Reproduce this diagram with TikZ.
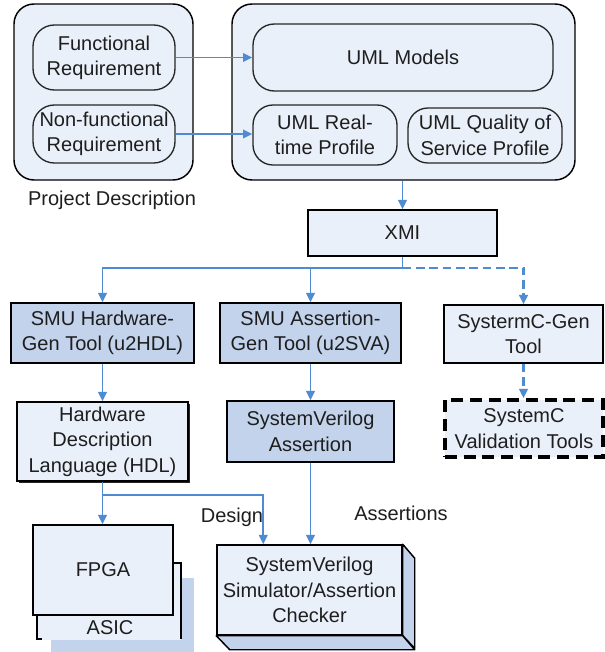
\documentclass[tikz,border=0pt]{standalone}
\usepackage{fontspec}
\setmainfont{Liberation Sans}
\usetikzlibrary{arrows.meta,fit,shadows}

\definecolor{paleblue}{RGB}{234,240,250}
\definecolor{toolblue}{RGB}{194,211,235}
\definecolor{linkblue}{RGB}{79,139,208}
\definecolor{inkgray}{RGB}{30,30,30}

\begin{document}
\begin{tikzpicture}[x=0.75pt,y=-0.75pt,
  every node/.style={font=\fontsize{15}{19}\selectfont, text=inkgray, align=center},
  group/.style={draw=black, line width=1.1pt, fill=paleblue, rounded corners=15pt, inner sep=0pt},
  pill/.style={draw=black!85, line width=1pt, fill=paleblue, rounded corners=16pt, inner sep=0pt},
  plain/.style={draw=black, line width=1.1pt, fill=paleblue, inner sep=0pt,
    general shadow={fill=black!85, shadow xshift=0.9pt, shadow yshift=-0.9pt}},
  tool/.style={plain, fill=toolblue},
  heavy/.style={plain, general shadow={fill=black!85, shadow xshift=1.5pt, shadow yshift=-1.5pt}},
  optional/.style={draw=black, line width=2.8pt, dash pattern=on 9pt off 5pt, fill=paleblue, inner sep=0pt},
  link/.style={draw=linkblue, line width=1.4pt, -{Triangle[length=7pt,width=6.5pt]}},
  dlink/.style={link, line width=1.8pt, dash pattern=on 6.5pt off 3.5pt},
  face/.style={draw=black, line width=1.1pt, fill=toolblue, line join=round}
]
\useasboundingbox (0,0) rectangle (605,652);

% ---- requirements group ----
\node[group, fit={(14,4) (193,180)}] (projbox) {};
\node[pill, fit={(33,25) (175,90)}] (funreq) {};
\node (funreq-t) at (funreq) {Functional\\Requirement};
\node[pill, fit={(33,105) (175,163)}] (nonfun) {};
\node (nonfun-t) at (nonfun) {Non-functional\\Requirement};
\node (projlabel) at (112,200) {Project Description};

% ---- UML group ----
\node[group, fit={(232,4) (575,180)}] (umlbox) {};
\node[pill, fit={(253,24) (553,91)}] (umlmodels) {};
\node (umlmodels-t) at (umlmodels) {UML Models};
\node[pill, rounded corners=15pt, fit={(253,105) (397,165)}] (umlrt) {};
\node (umlrt-t) at (umlrt) {UML Real-\\time Profile};
\node[pill, rounded corners=15pt, fit={(408,108) (562,163)}] (umlqos) {};
\node (umlqos-t) at (umlqos) {UML Quality of\\Service Profile};

% ---- transformation chain ----
\node[plain, fit={(308,210) (497,256)}] (xmi) {};
\node (xmi-t) at (xmi) {XMI};
\node[tool, fit={(11,303) (194,363)}] (smuhw) {};
\node (smuhw-t) at (smuhw) {SMU Hardware-\\Gen Tool (u2HDL)};
\node[tool, fit={(220,303) (401,363)}] (smuas) {};
\node (smuas-t) at (smuas) {SMU Assertion-\\Gen Tool (u2SVA)};
\node[plain, fit={(444,305) (603,363)}] (scgen) {};
\node (scgen-t) at (scgen) {SystermC-Gen\\Tool};
\node[heavy, fit={(17,402) (188,481)}] (hdl) {};
\node (hdl-t) at (hdl) {Hardware\\Description\\Language (HDL)};
\node[tool, fit={(227,401) (394,462)}] (sva) {};
\node (sva-t) at (sva) {SystemVerilog\\Assertion};
\node[optional, fit={(445,400) (603,457)}] (scval) {};
\node (scval-t) at (scval) {SystemC\\Validation Tools};

% ---- FPGA / ASIC stack ----
\fill[toolblue] (51,578) rectangle (194,652);
\fill[paleblue] (37,563) rectangle (181,640);
\draw[black, line width=1.1pt] (37,612) -- (37,639) -- (42,639);
\draw[black, line width=1.1pt] (170,563) -- (181,563) -- (181,639);
\node (asic) at (110,628) {ASIC};
\node[draw=black, line width=1.1pt, fill=paleblue, inner sep=0pt, fit={(33,525) (173,615)}] (fpga) {};
\node (fpga-t) at (fpga) {FPGA};

% ---- simulator / checker block ----
\node[draw=black, line width=1.1pt, fill=paleblue, inner sep=0pt, fit={(217,545) (402,635)}] (svsim) {};
\node (svsim-t) at (svsim) {SystemVerilog\\Simulator/Assertion\\Checker};
\draw[face] (svsim.north east) -- ++(12,14) -- ++(0,90) -- (svsim.south east) -- cycle;
\draw[face] (svsim.south west) -- (svsim.south east) -- ++(12,14) -- ++(-185,0) -- cycle;

% ---- connectors ----
\draw[link] (funreq.east) -- (funreq.east -| umlmodels.west);
\draw[link] (nonfun.east) -- (nonfun.east -| umlrt.west);
\draw[link] (xmi.north |- umlbox.south) -- (xmi.north);

\path (xmi.south) ++(0,11) coordinate (split);
\draw[link] (xmi.south) -- (split) -| (smuhw.north);
\draw[link] (smuas.north |- split) -- (smuas.north);
\draw[dlink] (split) -| (scgen.north);

\draw[link] (smuhw.south) -- (hdl.north -| smuhw.south);
\draw[link] (smuas.south) -- (sva.north -| smuas.south);
\draw[dlink] (scgen.south) -- (scval.north -| scgen.south);

\path (hdl.south) ++(0,13) coordinate (fork);
\coordinate (designin) at ([xshift=35.25pt]svsim.north west);
\draw[link] (hdl.south) -- (fpga.north -| hdl.south);
\draw[link] (fork) -| (designin);
\draw[link] (sva.south) -- (svsim.north -| sva.south);

\node (designlbl) at (232,517) {Design};
\node (assertlbl) at (401,513) {Assertions};
\end{tikzpicture}
\end{document}
